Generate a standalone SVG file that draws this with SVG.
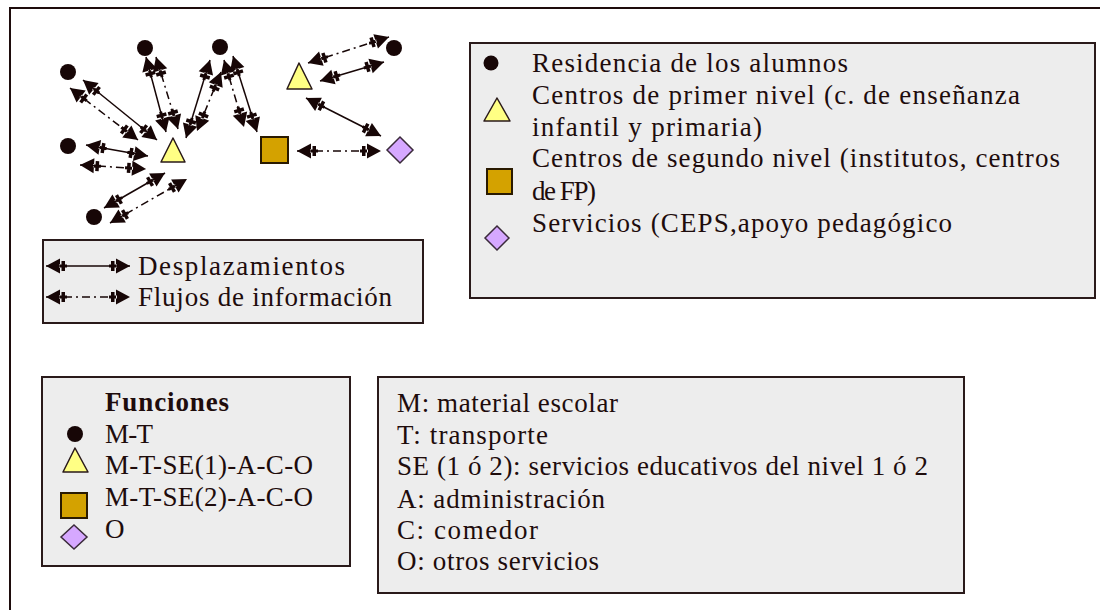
<svg xmlns="http://www.w3.org/2000/svg" width="1100" height="610" viewBox="0 0 1100 610">
<defs>
<style>
.t{font-family:"Liberation Serif","Times New Roman",serif;font-size:27px;fill:#1e0c0c}
.b{font-weight:bold}
.box{fill:#ededed;stroke:#2a1a1a;stroke-width:2}
.dot{fill:#170606}
.tri{fill:#ffff84;stroke:#2a1a1a;stroke-width:1.5;stroke-linejoin:round}
.sq{fill:#d4a200;stroke:#2a1a00;stroke-width:2}
.dia{fill:#d6a8ff;stroke:#3a2a3a;stroke-width:1.5}
.c{fill:none;stroke:#170606;stroke-width:1.5;marker-start:url(#ah);marker-end:url(#ah)}
.dd{stroke-dasharray:8,4,2,4}
</style>
<marker id="ah" viewBox="0 -8 21 16" refX="21" refY="0" markerWidth="21" markerHeight="16" markerUnits="userSpaceOnUse" orient="auto-start-reverse">
<path d="M21,0 L7,-7.5 L7,7.5 Z M2,-5 h3.5 v10 h-3.5 Z M0,-1.5 h8 v3 h-8 Z" fill="#170606"/>
</marker>
</defs>
<rect width="1100" height="610" fill="#ffffff"/>
<path d="M10,610 V8 H1100" fill="none" stroke="#1e0c0c" stroke-width="2"/>

<g id="connectors">
<line class="c" x1="83" y1="80" x2="157" y2="140"/>
<line class="c dd" x1="70" y1="88" x2="138" y2="140"/>
<line class="c" x1="86" y1="145" x2="148" y2="156"/>
<line class="c dd" x1="80" y1="165" x2="146" y2="169"/>
<line class="c" x1="104" y1="208" x2="165" y2="173"/>
<line class="c dd" x1="110" y1="223" x2="187" y2="179"/>
<line class="c" x1="146" y1="57" x2="166" y2="132"/>
<line class="c dd" x1="156" y1="57" x2="178" y2="129"/>
<line class="c" x1="210" y1="60" x2="186" y2="138"/>
<line class="c dd" x1="221" y1="72" x2="197" y2="131"/>
<line class="c dd" x1="224" y1="60" x2="244" y2="127"/>
<line class="c" x1="233" y1="56" x2="257" y2="132"/>
<line class="c dd" x1="308" y1="63" x2="389" y2="37"/>
<line class="c" x1="320" y1="81" x2="384" y2="62"/>
<line class="c" x1="306" y1="98" x2="381" y2="136"/>
<line class="c dd" x1="297" y1="151" x2="381" y2="151"/>
</g>

<g id="n-res1"><circle class="dot" cx="68" cy="72" r="8"/></g>
<g id="n-res2"><circle class="dot" cx="145" cy="48" r="8"/></g>
<g id="n-res3"><circle class="dot" cx="220" cy="47" r="8"/></g>
<g id="n-res4"><circle class="dot" cx="394" cy="48" r="8"/></g>
<g id="n-res5"><circle class="dot" cx="68" cy="146" r="8"/></g>
<g id="n-res6"><circle class="dot" cx="94" cy="217" r="8"/></g>
<g id="n-tri1"><polygon class="tri" points="173,138 161,162 185,162"/></g>
<g id="n-tri2"><polygon class="tri" points="299,63 287,89 312,89"/></g>
<g id="n-sq"><rect class="sq" x="261" y="137" width="27" height="26"/></g>
<g id="n-dia"><polygon class="dia" points="400,137 413,150 400,163 387,150"/></g>

<g id="legend-types">
<rect class="box" x="470" y="43" width="625" height="255"/>
<circle class="dot" cx="491" cy="63" r="7.5"/>
<polygon class="tri" points="497,98 484,121 510,121"/>
<rect class="sq" x="487" y="169" width="25" height="25"/>
<polygon class="dia" points="497,226 509,238 497,250 485,238"/>
<text class="t" x="532" y="72" textLength="316" lengthAdjust="spacing">Residencia de los alumnos</text>
<text class="t" x="532" y="104" textLength="488" lengthAdjust="spacing">Centros de primer nivel (c. de enseñanza</text>
<text class="t" x="532" y="136" textLength="230" lengthAdjust="spacing">infantil y primaria)</text>
<text class="t" x="532" y="167" textLength="528" lengthAdjust="spacing">Centros de segundo nivel (institutos, centros</text>
<text class="t" x="532" y="200" textLength="64" lengthAdjust="spacing">de FP)</text>
<text class="t" x="532" y="232" textLength="420" lengthAdjust="spacing">Servicios (CEPS,apoyo pedagógico</text>
</g>

<g id="legend-lines">
<rect class="box" x="43" y="240" width="380" height="83"/>
<line class="c" x1="46" y1="266" x2="130" y2="266"/>
<line class="c dd" x1="46" y1="297" x2="130" y2="297"/>
<text class="t" x="138" y="275" textLength="207" lengthAdjust="spacing">Desplazamientos</text>
<text class="t" x="138" y="306" textLength="254" lengthAdjust="spacing">Flujos de información</text>
</g>

<g id="legend-funciones">
<rect class="box" x="42" y="377" width="308" height="189"/>
<text class="t b" x="105" y="411" textLength="124" lengthAdjust="spacing">Funciones</text>
<circle class="dot" cx="75" cy="434" r="8"/>
<polygon class="tri" points="75,448 63,472 88,472"/>
<rect class="sq" x="61" y="493" width="26" height="25"/>
<polygon class="dia" points="74,525 87,537 74,549 61,537"/>
<text class="t" x="105" y="443" textLength="48" lengthAdjust="spacing">M-T</text>
<text class="t" x="105" y="474" textLength="208" lengthAdjust="spacing">M-T-SE(1)-A-C-O</text>
<text class="t" x="105" y="506" textLength="208" lengthAdjust="spacing">M-T-SE(2)-A-C-O</text>
<text class="t" x="105" y="538">O</text>
</g>

<g id="legend-abrev">
<rect class="box" x="378" y="377" width="586" height="216"/>
<text class="t" x="397" y="412" textLength="221" lengthAdjust="spacing">M: material escolar</text>
<text class="t" x="397" y="444" textLength="151" lengthAdjust="spacing">T: transporte</text>
<text class="t" x="397" y="475" textLength="531" lengthAdjust="spacing">SE (1 ó 2): servicios educativos del nivel 1 ó 2</text>
<text class="t" x="397" y="508" textLength="208" lengthAdjust="spacing">A: administración</text>
<text class="t" x="397" y="539" textLength="141" lengthAdjust="spacing">C: comedor</text>
<text class="t" x="397" y="570" textLength="202" lengthAdjust="spacing">O: otros servicios</text>
</g>
</svg>
